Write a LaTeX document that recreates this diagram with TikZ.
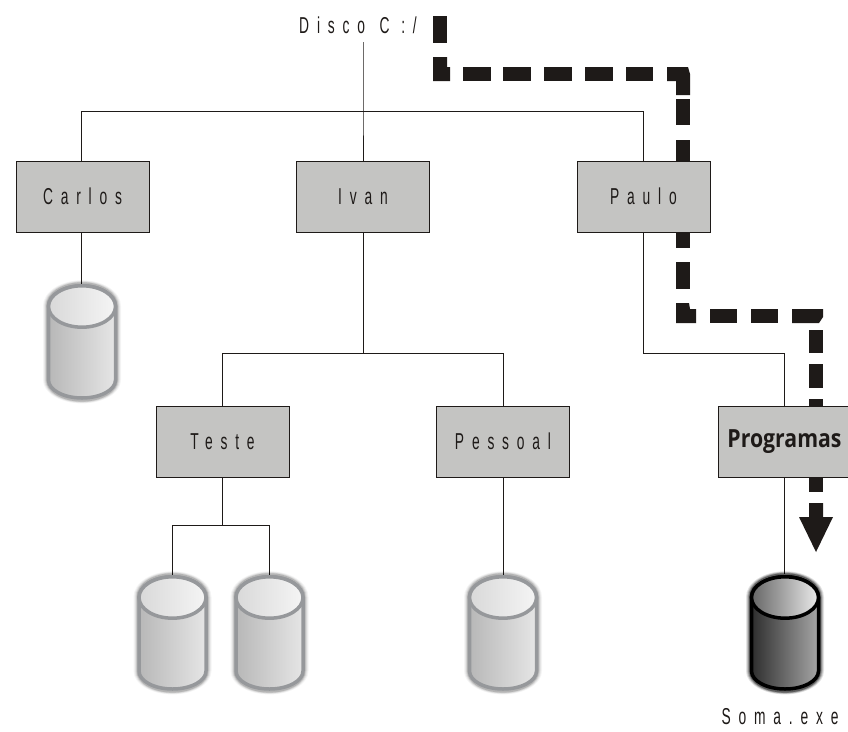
\documentclass[tikz,border=0pt]{standalone}
\usepackage{fontspec}
\setmainfont{Liberation Sans}[FakeStretch=0.6]
\newfontfamily\boldf{Open Sans}[FakeStretch=0.85]
\definecolor{boxgray}{RGB}{196,196,194}
\definecolor{ink}{RGB}{30,26,24}
\definecolor{rimgray}{RGB}{150,152,155}
\tikzset{
  folder/.style={draw=ink,line width=1pt,fill=boxgray,minimum width=133pt,minimum height=71pt,inner sep=0pt,text=ink,font=\fontsize{23}{26}\selectfont},
  lbl/.style={text=ink,font=\fontsize{23}{26}\selectfont,inner sep=0pt},
  link/.style={draw=ink,line width=1pt},
  dsh/.style={fill=ink,draw=none}
}
\newcommand{\spc}[1]{\addfontfeatures{LetterSpace=34}#1}
\newcommand{\cylbody}[3]{%
   \path[left color=#1,right color=#2,draw=#3,line width=3.5pt] (-33.5,-35.5) -- (-33.5,38) arc[start angle=180,end angle=0,x radius=33.5,y radius=18] -- (33.5,-35.5) arc[start angle=0,end angle=-180,x radius=33.5,y radius=20.7] -- cycle;}
\newcommand{\cyltop}[3]{%
   \path[left color=#1,right color=#2,draw=#3,line width=3.5pt] (0,-35.5) ellipse[x radius=33.5,y radius=20.7];}
\newcommand{\halo}[1]{%
   \foreach \w/\o in {39/.04,38/.06,37/.09,36/.14}{\fill[black,opacity=\o*#1] (-\w,-36) arc[start angle=180,end angle=360,x radius=\w,y radius=\w*0.66] -- (\w,38) arc[start angle=0,end angle=180,x radius=\w,y radius=\w*0.6] -- cycle;}}
\newcommand{\cyl}[2]{%
 \begin{scope}[shift={(#1,#2)}]
   \halo{1}
   \cylbody{black!28}{black!10}{rimgray}
   \cyltop{black!15}{black!4}{rimgray}
 \end{scope}}
\newcommand{\cyldark}[2]{%
 \begin{scope}[shift={(#1,#2)}]
   \halo{2.6}
   \cylbody{black!82}{black!35}{black}
   \cyltop{black!60}{black!8}{black}
 \end{scope}}
\begin{document}
\begin{tikzpicture}[x=1pt,y=-1pt]
\useasboundingbox (0,0) rectangle (848,731);
% thick path, under the boxes
\fill[dsh] (433,16) rectangle (447,43);
\fill[dsh] (433,57) -- (447,57) -- (447,67) -- (450,67) -- (450,81) -- (433,81) -- cycle;
\foreach \a/\b in {463/491,503/531,544/572,585/613,626/653}{\fill[dsh] (\a,67) rectangle (\b,81);}
\fill[dsh] (667,67) -- (688,67) -- (690,74) -- (690,95) -- (676,95) -- (676,81) -- (667,81) -- cycle;
\fill[dsh] (676,99) rectangle (690,125);
\fill[dsh] (676,140) rectangle (690,170);
\fill[dsh] (676,225) rectangle (690,248);
\fill[dsh] (676,262) rectangle (690,289);
\fill[dsh] (676,303) -- (689,303) -- (690,309) -- (696,309) -- (696,323) -- (676,323) -- cycle;
\foreach \a/\b in {710/737,751/778}{\fill[dsh] (\a,309) rectangle (\b,323);}
\fill[dsh] (792,309) -- (823,309) -- (823,317) -- (819,323) -- (792,323) -- cycle;
\fill[dsh] (809,330) rectangle (823,353);
\fill[dsh] (809,364) rectangle (823,388);
\fill[dsh] (809,399) rectangle (823,415);
\fill[dsh] (809,470) rectangle (823,492);
\fill[dsh] (809,503) -- (823,503) -- (823,517) -- (833,517) -- (816,552) -- (799,517) -- (809,517) -- cycle;
% text and nodes
\node[lbl,anchor=center] (root) at (358,25) {\spc{Disco\hspace{3pt} C :/}};
\coordinate (rootb) at (363,42);
\coordinate (j1) at (363,111);
\coordinate (j1l) at (81,111);
\coordinate (j1r) at (643,111);
\coordinate (j2) at (363,353);
\coordinate (j2l) at (222,353);
\coordinate (j2r) at (503,353);
\coordinate (j3) at (222,525);
\coordinate (j3l) at (172,525);
\coordinate (j3r) at (269,525);
\coordinate (j4) at (643,353);
\coordinate (j4r) at (784,353);
% connectors
\draw[link] (rootb) -- (j1) -- (363,161);
\draw[link] (j1l) -- (j1r);
\draw[link] (j1l) -- (81,161);
\draw[link] (j1r) -- (643,161);
\draw[link] (81,232) -- (81,285);
\draw[link] (363,232) -- (j2);
\draw[link] (j2l) -- (j2r);
\draw[link] (j2l) -- (222,406);
\draw[link] (j2r) -- (503,406);
\draw[link] (643,232) -- (j4) -- (j4r) -- (784,406);
\draw[link] (222,477) -- (j3);
\draw[link] (j3l) -- (j3r);
\draw[link] (j3l) -- (172,576);
\draw[link] (j3r) -- (269,576);
\draw[link] (503,477) -- (503,576);
\draw[link] (784,477) -- (784,574);
\cyl{82}{342}
\cyl{172.5}{633}
\cyl{269.5}{633}
\cyl{503}{633}
\cyldark{785}{633}
\node[folder] (carlos) at (82.5,196.5) {\spc{Carlos}};
\node[folder] (ivan) at (363,196.5) {\spc{Ivan}};
\node[folder] (paulo) at (643.5,196.5) {\spc{Paulo}};
\node[folder] (teste) at (222.5,441.5) {\spc{Teste}};
\node[folder] (pessoal) at (503,441.5) {\spc{Pessoal}};
\node[folder] (prog) at (784.5,441.5) {\boldf\bfseries\fontsize{25}{28}\selectfont Programas};
\node[lbl] (soma) at (780,717) {\spc{Soma.exe}};
\end{tikzpicture}
\end{document}
